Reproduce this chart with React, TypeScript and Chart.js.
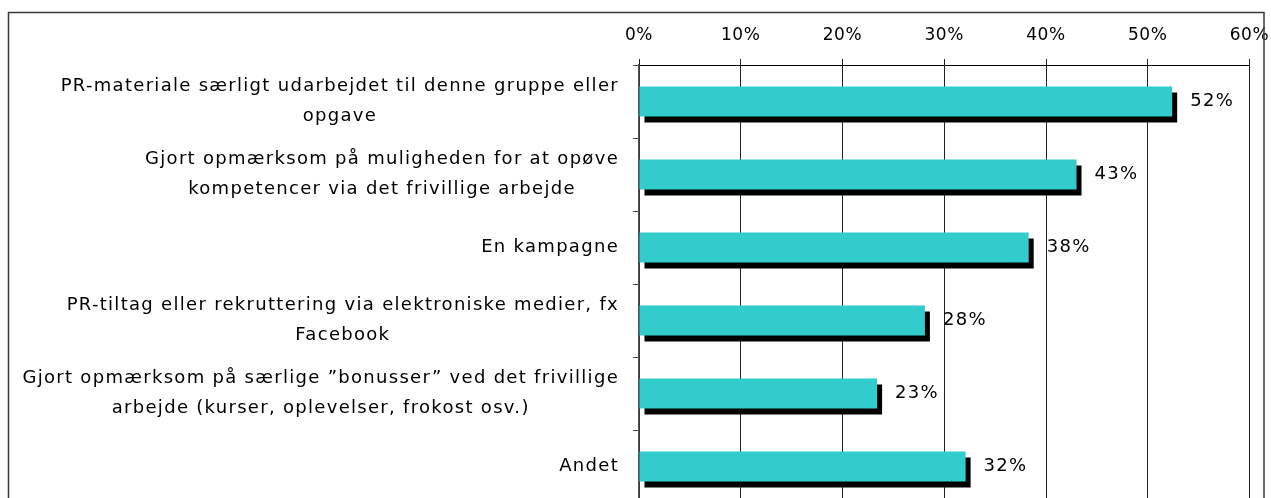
import React, { useEffect, useRef } from "react";
import { Chart, registerables } from "chart.js";

Chart.register(...registerables);

const categories: string[][] = [
  ["PR-materiale særligt udarbejdet til denne gruppe eller", "opgave"],
  ["Gjort opmærksom på muligheden for at opøve", "kompetencer via det frivillige arbejde"],
  ["En kampagne"],
  ["PR-tiltag eller rekruttering via elektroniske medier, fx", "Facebook"],
  ["Gjort opmærksom på særlige ”bonusser” ved det frivillige", "arbejde (kurser, oplevelser, frokost osv.)"],
  ["Andet"],
];
const values = [52.4, 43.0, 38.3, 28.1, 23.4, 32.1];
const xTicks = [0, 10, 20, 30, 40, 50, 60];

const FAMILY = "'DejaVu Sans', sans-serif";
const AXIS_FONT_SIZE = 17;
const LABEL_FONT_SIZE = 18;
const W = 1271;
const H = 520;

const spacingPlugin = {
  id: "spacing",
  beforeDraw(chart: any) {
    const ctx = chart.ctx as any;
    ctx.save();
    ctx.letterSpacing = "0.6px";
  },
  afterDraw(chart: any) {
    chart.ctx.restore();
  },
};

const textPlugin = {
  id: "customText",
  afterDraw(chart: any) {
    const ctx = chart.ctx as any;
    const yScale = chart.scales.y;
    const right = chart.chartArea.left - 20;
    ctx.save();
    ctx.letterSpacing = "1.3px";
    ctx.font = `${LABEL_FONT_SIZE}px ${FAMILY}`;
    ctx.fillStyle = "#000";
    ctx.textBaseline = "middle";
    ctx.textAlign = "center";
    categories.forEach((lines, i) => {
      const cy = yScale.getPixelForValue(i);
      const w = Math.max(...lines.map((l) => ctx.measureText(l).width));
      const cx = right - w / 2;
      const lh = 30;
      lines.forEach((l, j) => {
        ctx.fillText(l, cx, cy + (j - (lines.length - 1) / 2) * lh);
      });
    });
    const meta = chart.getDatasetMeta(0);
    ctx.textAlign = "left";
    meta.data.forEach((bar: any, i: number) => {
      ctx.fillText(Math.round(values[i]) + "%", bar.x + 18, bar.y);
    });
    // outer border
    ctx.strokeStyle = "#3a3a3a";
    ctx.lineWidth = 1.5;
    ctx.strokeRect(8.5, 12.5, 1264 - 8.5, 600);
    ctx.restore();
  },
};

const shadowPlugin = {
  id: "barShadow",
  beforeDatasetsDraw(chart: any) {
    const ctx = chart.ctx as CanvasRenderingContext2D;
    ctx.save();
    ctx.shadowColor = "#000";
    ctx.shadowBlur = 0;
    ctx.shadowOffsetX = 5;
    ctx.shadowOffsetY = 6;
  },
  afterDatasetsDraw(chart: any) {
    chart.ctx.restore();
  },
};

export default function App() {
  const ref = useRef<HTMLCanvasElement | null>(null);
  useEffect(() => {
    if (!ref.current) return;
    const chart = new Chart(ref.current, {
      type: "bar",
      data: {
        labels: categories.map((c) => c.join(" ")),
        datasets: [
          {
            data: values,
            backgroundColor: "#33CCCC",
            borderWidth: 0,
            barPercentage: 0.41,
            categoryPercentage: 1,
          },
        ],
      },
      options: {
        indexAxis: "y",
        animation: false,
        responsive: true,
        maintainAspectRatio: false,
        layout: { padding: { left: 0, right: 21.5, top: 0, bottom: H - 503 } },
        plugins: {
          legend: { display: false },
          tooltip: { enabled: false },
        },
        scales: {
          x: {
            position: "top",
            min: 0,
            max: 60,
            afterBuildTicks: (s: any) => {
              s.ticks = xTicks.map((v) => ({ value: v }));
            },
            afterFit: (s: any) => {
              s.height = 65;
              s.paddingLeft = 0;
              s.paddingRight = 0;
            },
            ticks: {
              callback: (v: any) => v + "%",
              font: { family: FAMILY, size: AXIS_FONT_SIZE },
              color: "#000",
              padding: 13,
            },
            grid: { color: "#222", lineWidth: 1, tickLength: 6 },
            border: { display: true, color: "#000", width: 1 },
          },
          y: {
            afterFit: (s: any) => {
              s.width = 639;
            },
            ticks: { color: "rgba(0,0,0,0)", font: { family: FAMILY, size: AXIS_FONT_SIZE } },
            grid: { drawOnChartArea: false, tickLength: 6, color: "#444" },
            border: { display: true, color: "#555", width: 1.5 },
          },
        },
      },
      plugins: [spacingPlugin, shadowPlugin, textPlugin],
    });
    return () => chart.destroy();
  }, []);
  return (
    <div style={{ position: "fixed", left: 0, top: 0, width: W, height: 498, overflow: "hidden", background: "#fff" }}>
      <div style={{ position: "relative", width: W, height: H }}>
        <canvas ref={ref} />
      </div>
    </div>
  );
}
